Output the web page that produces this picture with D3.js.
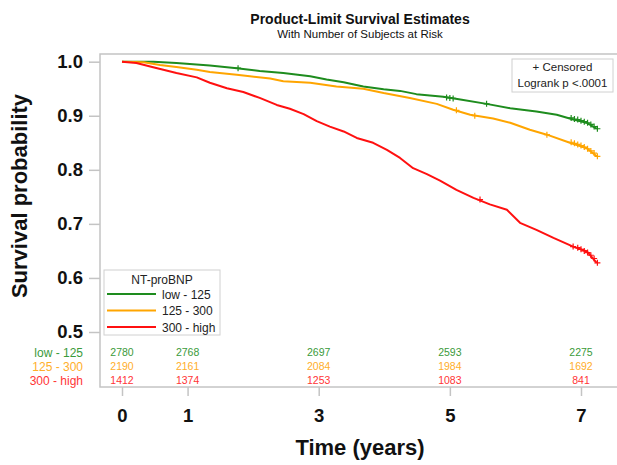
<!DOCTYPE html>
<html>
<head>
<meta charset="utf-8">
<script src="https://cdn.jsdelivr.net/npm/d3@7"></script>
<style>
  html, body { margin: 0; padding: 0; background: #fff; }
  svg { display: block; font-family: "Liberation Sans", Arial, sans-serif; }
</style>
</head>
<body>
<svg id="chart" width="617" height="465"></svg>
<script>
// ---- Data ----
const groups = ["low - 125", "125 - 300", "300 - high"];
const groupColors = ["#1e8c1e", "#ffa500", "#ff1010"];
const riskColors = ["#3a9a3a", "#ffae2a", "#ff3535"];

const greenCurve = [
  [0, 1.0], [0.48, 1.0], [0.83, 0.9975], [1.34, 0.993], [1.75, 0.988], [2.10, 0.983],
  [2.46, 0.979], [2.87, 0.973], [3.12, 0.967], [3.38, 0.962], [3.68, 0.954], [3.99, 0.949],
  [4.24, 0.946], [4.49, 0.940], [4.90, 0.935], [5.16, 0.930], [5.56, 0.922], [5.92, 0.914],
  [6.32, 0.908], [6.63, 0.902], [6.88, 0.893], [7.09, 0.887], [7.24, 0.876]
];
const orangeCurve = [
  [0, 1.0], [0.33, 0.999], [0.58, 0.994], [0.83, 0.990], [1.14, 0.985], [1.34, 0.981],
  [1.75, 0.976], [1.95, 0.973], [2.26, 0.969], [2.46, 0.964], [2.87, 0.961], [3.27, 0.954],
  [3.68, 0.950], [3.99, 0.942], [4.39, 0.933], [4.80, 0.922], [5.05, 0.911], [5.31, 0.902],
  [5.66, 0.895], [5.92, 0.887], [6.22, 0.874], [6.48, 0.865], [6.83, 0.850], [7.09, 0.840],
  [7.24, 0.825]
];
const redCurve = [
  [0, 1.0], [0.22, 0.9975], [0.43, 0.991], [0.63, 0.985], [0.83, 0.979], [1.14, 0.971],
  [1.34, 0.961], [1.60, 0.951], [1.85, 0.944], [2.10, 0.933], [2.36, 0.920], [2.56, 0.913],
  [2.77, 0.903], [2.97, 0.890], [3.17, 0.880], [3.38, 0.871], [3.58, 0.859], [3.83, 0.850],
  [4.04, 0.837], [4.24, 0.822], [4.44, 0.803], [4.65, 0.792], [4.85, 0.780], [5.10, 0.763],
  [5.36, 0.748], [5.61, 0.736], [5.87, 0.726], [6.07, 0.702], [6.32, 0.689], [6.58, 0.674],
  [6.88, 0.658], [7.09, 0.649], [7.24, 0.628]
];

const greenCensored = [
  [1.77, 0.988], [4.95, 0.934], [5.0, 0.933], [5.05, 0.932], [5.56, 0.922],
  [6.85, 0.896], [6.9, 0.894], [6.95, 0.893], [7.0, 0.891], [7.05, 0.889], [7.1, 0.887],
  [7.15, 0.884], [7.2, 0.880], [7.25, 0.876]
];
const orangeCensored = [
  [5.1, 0.910], [5.38, 0.900], [6.48, 0.865],
  [6.85, 0.851], [6.9, 0.849], [6.95, 0.847], [7.0, 0.845], [7.05, 0.842], [7.1, 0.839],
  [7.15, 0.835], [7.2, 0.831], [7.25, 0.825]
];
const redCensored = [
  [5.46, 0.745],
  [6.88, 0.658], [6.95, 0.656], [7.0, 0.653], [7.05, 0.650], [7.1, 0.647],
  [7.15, 0.642], [7.2, 0.636], [7.25, 0.628]
];

const riskTimes = [0, 1, 3, 5, 7];
const riskGreen = [2780, 2768, 2697, 2593, 2275];
const riskOrange = [2190, 2161, 2084, 1984, 1692];
const riskRed = [1412, 1374, 1253, 1083, 841];

const xTicks = [0, 1, 3, 5, 7];
const yTicks = [0.5, 0.6, 0.7, 0.8, 0.9, 1.0];

const title = "Product-Limit Survival Estimates";
const subtitle = "With Number of Subjects at Risk";
const xLabel = "Time (years)";
const yLabel = "Survival probability";
const legendTitle = "NT-proBNP";
const insetLines = ["+ Censored", "Logrank p <.0001"];

// ---- Drawing ----
const svg = d3.select("#chart");
const x = d3.scaleLinear().domain([0, 7]).range([122, 581]);
const y = d3.scaleLinear().domain([0.5, 1.0]).range([332, 61.7]);

const frame = { left: 100, top: 54, right: 620, bottom: 387 };
const gridColor = "#c4c4c4";

// Titles
svg.append("text").attr("x", 360).attr("y", 24).attr("text-anchor", "middle")
  .attr("font-size", 14).attr("font-weight", "bold").attr("fill", "#111").text(title);
svg.append("text").attr("x", 360).attr("y", 37.5).attr("text-anchor", "middle")
  .attr("font-size", 11.5).attr("fill", "#111").text(subtitle);

// Frame
svg.append("rect").attr("x", frame.left).attr("y", frame.top)
  .attr("width", frame.right - frame.left).attr("height", frame.bottom - frame.top)
  .attr("fill", "none").attr("stroke", gridColor).attr("stroke-width", 1.5);

// Y axis
const yAxis = d3.axisLeft(y).tickValues(yTicks).tickFormat(d3.format(".1f"))
  .tickSize(11).tickPadding(6);
const gy = svg.append("g").attr("transform", `translate(${frame.left},0)`).call(yAxis);
gy.select(".domain").remove();
gy.selectAll(".tick line").attr("stroke", gridColor).attr("stroke-width", 1.5);
gy.selectAll(".tick text").attr("font-size", 18.5).attr("font-weight", "bold")
  .attr("fill", "#111").attr("font-family", "Liberation Sans, Arial, sans-serif");

// X axis
const xAxis = d3.axisBottom(x).tickValues(xTicks).tickFormat(d3.format("d"))
  .tickSize(9).tickPadding(13);
const gx = svg.append("g").attr("transform", `translate(0,${frame.bottom})`).call(xAxis);
gx.select(".domain").remove();
gx.selectAll(".tick line").attr("stroke", gridColor).attr("stroke-width", 1.5);
gx.selectAll(".tick text").attr("font-size", 18.5).attr("font-weight", "bold")
  .attr("fill", "#111").attr("font-family", "Liberation Sans, Arial, sans-serif");

// Axis labels
svg.append("text").attr("x", 360).attr("y", 455).attr("text-anchor", "middle")
  .attr("font-size", 22).attr("font-weight", "bold").attr("fill", "#111").text(xLabel);
svg.append("text").attr("transform", "translate(27,196) rotate(-90)")
  .attr("text-anchor", "middle").attr("font-size", 22).attr("font-weight", "bold")
  .attr("fill", "#111").text(yLabel);

// Curves
const curves = [greenCurve, orangeCurve, redCurve];
const censored = [greenCensored, orangeCensored, redCensored];
const line = d3.line().x(d => x(d[0])).y(d => y(d[1])).curve(d3.curveLinear);

curves.forEach((c, i) => {
  svg.append("path").datum(c).attr("d", line).attr("fill", "none")
    .attr("stroke", groupColors[i]).attr("stroke-width", 2)
    .attr("stroke-linejoin", "round");
});
censored.forEach((c, i) => {
  svg.append("g").selectAll("path").data(c).join("path")
    .attr("d", d => {
      const cx = x(d[0]), cy = y(d[1]), s = 3;
      return `M${cx - s},${cy}H${cx + s}M${cx},${cy - s}V${cy + s}`;
    })
    .attr("stroke", groupColors[i]).attr("stroke-width", 1.2).attr("fill", "none");
});

// Inset box (Censored / Logrank)
svg.append("rect").attr("x", 512).attr("y", 59).attr("width", 101).attr("height", 33)
  .attr("fill", "#fff").attr("stroke", "#d0d0d0").attr("stroke-width", 1);
insetLines.forEach((t, i) => {
  svg.append("text").attr("x", 562.5).attr("y", 71 + i * 16).attr("text-anchor", "middle")
    .attr("font-size", 11.5).attr("fill", "#222").text(t);
});

// Legend
svg.append("rect").attr("x", 104).attr("y", 270).attr("width", 116).attr("height", 65)
  .attr("fill", "#fff").attr("stroke", "#d0d0d0").attr("stroke-width", 1);
svg.append("text").attr("x", 162).attr("y", 284).attr("text-anchor", "middle")
  .attr("font-size", 12).attr("fill", "#222").text(legendTitle);
groups.forEach((g, i) => {
  const ly = 294 + i * 16.5;
  svg.append("line").attr("x1", 107).attr("x2", 156).attr("y1", ly).attr("y2", ly)
    .attr("stroke", groupColors[i]).attr("stroke-width", 2);
  svg.append("text").attr("x", 162).attr("y", ly + 4.5).attr("font-size", 12)
    .attr("fill", "#222").text(g);
});

// At-risk table
const riskRows = [riskGreen, riskOrange, riskRed];
riskRows.forEach((row, i) => {
  const ry = 356 + i * 14;
  svg.append("text").attr("x", 83).attr("y", ry + 0.5).attr("text-anchor", "end")
    .attr("font-size", 12).attr("fill", riskColors[i]).text(groups[i]);
  svg.append("g").selectAll("text").data(row).join("text")
    .attr("x", (d, j) => x(riskTimes[j])).attr("y", ry)
    .attr("text-anchor", "middle").attr("font-size", 10.5).attr("fill", riskColors[i])
    .text(d => d);
});
</script>
</body>
</html>
